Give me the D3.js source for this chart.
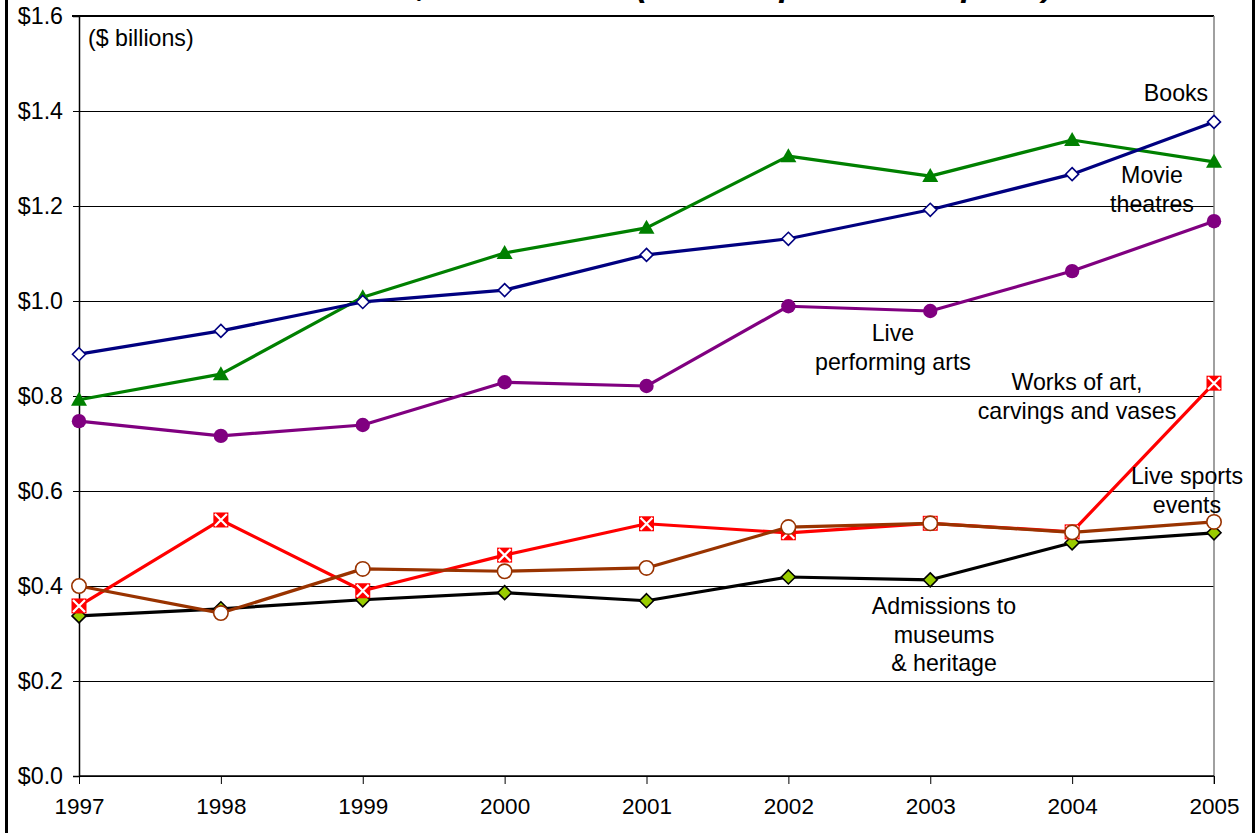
<!DOCTYPE html>
<html>
<head>
<meta charset="utf-8">
<script src="https://cdn.jsdelivr.net/npm/d3@7/dist/d3.min.js"></script>
<style>
  html, body { margin: 0; padding: 0; background: #fff; }
  svg { display: block; font-family: "Liberation Sans", Arial, sans-serif; }
</style>
</head>
<body>
<svg id="chart" width="1257" height="833"></svg>
<script>
// ---- data ----
const years = [1997, 1998, 1999, 2000, 2001, 2002, 2003, 2004, 2005];
const yTicks = [0, 0.2, 0.4, 0.6, 0.8, 1.0, 1.2, 1.4, 1.6];

const books        = [0.888, 0.937, 0.998, 1.023, 1.097, 1.131, 1.192, 1.267, 1.377];
const movies       = [0.792, 0.846, 1.008, 1.101, 1.154, 1.305, 1.263, 1.339, 1.293];
const performing   = [0.747, 0.716, 0.739, 0.829, 0.821, 0.989, 0.979, 1.063, 1.168];
const worksOfArt   = [0.358, 0.539, 0.390, 0.465, 0.531, 0.512, 0.532, 0.514, 0.827];
const admissions   = [0.337, 0.352, 0.371, 0.386, 0.369, 0.419, 0.413, 0.491, 0.512];
const liveSports   = [0.400, 0.343, 0.436, 0.431, 0.438, 0.524, 0.532, 0.513, 0.535];

const titleText = "Selected Culture Items, 1997 to 2005 (Annual expenditure at current prices)";

const series = [
  { name: "Movie theatres", values: movies, color: "#008000", marker: "triangle" },
  { name: "Books", values: books, color: "#000080", marker: "openDiamond" },
  { name: "Live performing arts", values: performing, color: "#800080", marker: "circle" },
  { name: "Admissions to museums & heritage", values: admissions, color: "#000000", marker: "greenDiamond" },
  { name: "Works of art, carvings and vases", values: worksOfArt, color: "#FF0000", marker: "xSquare" },
  { name: "Live sports events", values: liveSports, color: "#993300", marker: "openCircle" }
];

const labels = [
  { lines: ["Books"], x: 1176, y: 93 },
  { lines: ["Movie", "theatres"], x: 1152, y: 175 },
  { lines: ["Live", "performing arts"], x: 893, y: 333 },
  { lines: ["Works of art,", "carvings and vases"], x: 1077, y: 382 },
  { lines: ["Live sports", "events"], x: 1187, y: 476 },
  { lines: ["Admissions to", "museums", "& heritage"], x: 944, y: 606 }
];

// ---- layout ----
const svg = d3.select("#chart");
const pLeft = 79, pRight = 1214, pTop = 16, pBottom = 776;
const x = d3.scaleLinear().domain([1997, 2005]).range([pLeft, pRight]);
const y = d3.scaleLinear().domain([0, 1.6]).range([pBottom, pTop]);
const FS = 23.2;
const FSX = 22.5;

// outer frame
svg.append("line").attr("x1", 6.5).attr("x2", 6.5).attr("y1", 0).attr("y2", 833)
  .attr("stroke", "#000").attr("stroke-width", 3);
svg.append("line").attr("x1", 1253.5).attr("x2", 1253.5).attr("y1", 0).attr("y2", 833)
  .attr("stroke", "#000").attr("stroke-width", 3);

// title (cut off above the picture; only descenders show)
const title = svg.append("text")
  .attr("font-size", 34).attr("font-weight", "bold").attr("font-style", "italic")
  .attr("x", 0).attr("y", -4).text(titleText);
(function placeTitle() {
  const node = title.node();
  const n = titleText.length;
  const centers = [], widths = [];
  for (let i = 0; i < n; i++) {
    const e = node.getExtentOfChar(i);
    centers.push(e.x + e.width / 2); widths.push(e.width);
  }
  const iComma = titleText.indexOf(",");
  const iOpen = titleText.indexOf("(");
  const iP1 = titleText.indexOf("p", iOpen);
  const iP2 = titleText.lastIndexOf("p");
  const iClose = titleText.indexOf(")");
  const anchors = [[iComma, 422], [iOpen, 642], [iP1, 790], [iP2, 972], [iClose, 1048]];
  const xs = [];
  for (let i = 0; i < n; i++) {
    let cx;
    if (i <= anchors[0][0]) {
      cx = anchors[0][1] + (centers[i] - centers[anchors[0][0]]);
    } else {
      let k = 0;
      while (k < anchors.length - 2 && i > anchors[k + 1][0]) k++;
      const [a, ax] = anchors[k], [b, bx] = anchors[k + 1];
      const t = (centers[i] - centers[a]) / (centers[b] - centers[a]);
      cx = ax + t * (bx - ax);
    }
    xs.push((cx - widths[i] / 2).toFixed(1));
  }
  title.attr("x", xs.join(" "));
})();

// gridlines
svg.append("g")
  .attr("transform", `translate(${pLeft},0)`)
  .call(d3.axisLeft(y).tickValues(yTicks).tickSize(-(pRight - pLeft)).tickFormat(""))
  .call(g => g.select(".domain").remove())
  .call(g => g.selectAll("line").attr("stroke", "#000").attr("stroke-width", 1)
    .attr("shape-rendering", "crispEdges"));

// top border line (heavier)
svg.append("line").attr("x1", pLeft - 7).attr("x2", pRight).attr("y1", y(1.6)).attr("y2", y(1.6))
  .attr("stroke", "#000").attr("stroke-width", 2);

// right border of plot (gray)
svg.append("line").attr("x1", pRight).attr("x2", pRight).attr("y1", pTop).attr("y2", pBottom + 8)
  .attr("stroke", "#808080").attr("stroke-width", 1.5);

// y axis
svg.append("g")
  .attr("transform", `translate(${pLeft},0)`)
  .call(d3.axisLeft(y).tickValues(yTicks).tickSize(6).tickPadding(10)
    .tickFormat(d => "$" + d.toFixed(1)))
  .call(g => g.select(".domain").attr("stroke", "#000").attr("stroke-width", 1.5))
  .call(g => g.selectAll("line").attr("stroke", "#000"))
  .call(g => g.selectAll("text").attr("font-size", FS).attr("fill", "#000")
    .attr("font-family", "'Liberation Sans', Arial, sans-serif"));

// x axis
svg.append("g")
  .attr("transform", `translate(0,${pBottom})`)
  .call(d3.axisBottom(x).tickValues(years).tickSize(8).tickPadding(14)
    .tickFormat(d3.format("d")))
  .call(g => g.select(".domain").attr("stroke", "#000").attr("stroke-width", 1.5)
    .attr("d", `M${pLeft},0H${pRight}`))
  .call(g => g.selectAll("line").attr("stroke", "#000"))
  .call(g => g.selectAll("text").attr("font-size", FSX).attr("fill", "#000")
    .attr("font-family", "'Liberation Sans', Arial, sans-serif"));

// units label
svg.append("text").attr("x", 88).attr("y", 46).attr("font-size", FS).text("($ billions)");

// lines & markers
const line = d3.line().x((d, i) => x(years[i])).y(d => y(d));

function drawMarker(g, type, color) {
  if (type === "triangle") {
    g.append("path").attr("d", "M0,-8L8,6L-8,6Z").attr("fill", color);
  } else if (type === "openDiamond") {
    g.append("path").attr("d", "M0,-6.5L6.5,0L0,6.5L-6.5,0Z")
      .attr("fill", "#fff").attr("stroke", color).attr("stroke-width", 1.6);
  } else if (type === "greenDiamond") {
    g.append("path").attr("d", "M0,-7L7,0L0,7L-7,0Z")
      .attr("fill", "#99CC00").attr("stroke", "#000").attr("stroke-width", 1.6);
  } else if (type === "circle") {
    g.append("circle").attr("r", 7.2).attr("fill", color);
  } else if (type === "openCircle") {
    g.append("circle").attr("r", 7.2).attr("fill", "#fff")
      .attr("stroke", color).attr("stroke-width", 1.6);
  } else if (type === "xSquare") {
    g.append("rect").attr("x", -7.5).attr("y", -7.5).attr("width", 15).attr("height", 15)
      .attr("fill", color);
    g.append("path").attr("d", "M-6,-6L6,6M6,-6L-6,6")
      .attr("stroke", "#fff").attr("stroke-width", 2.2);
  }
}

series.forEach(s => {
  const g = svg.append("g");
  g.append("path").datum(s.values).attr("d", line)
    .attr("fill", "none").attr("stroke", s.color).attr("stroke-width", 3.2)
    .attr("stroke-linejoin", "round");
  s.values.forEach((v, i) => {
    const m = g.append("g").attr("transform", `translate(${x(years[i])},${y(v)})`);
    drawMarker(m, s.marker, s.color);
  });
});

// annotations
labels.forEach(l => {
  const t = svg.append("text").attr("font-size", FS).attr("text-anchor", "middle")
    .attr("fill", "#000");
  l.lines.forEach((ln, i) => {
    t.append("tspan").attr("x", l.x).attr("y", l.y + i * 28.5).attr("dy", "0.35em").text(ln);
  });
});
</script>
</body>
</html>
